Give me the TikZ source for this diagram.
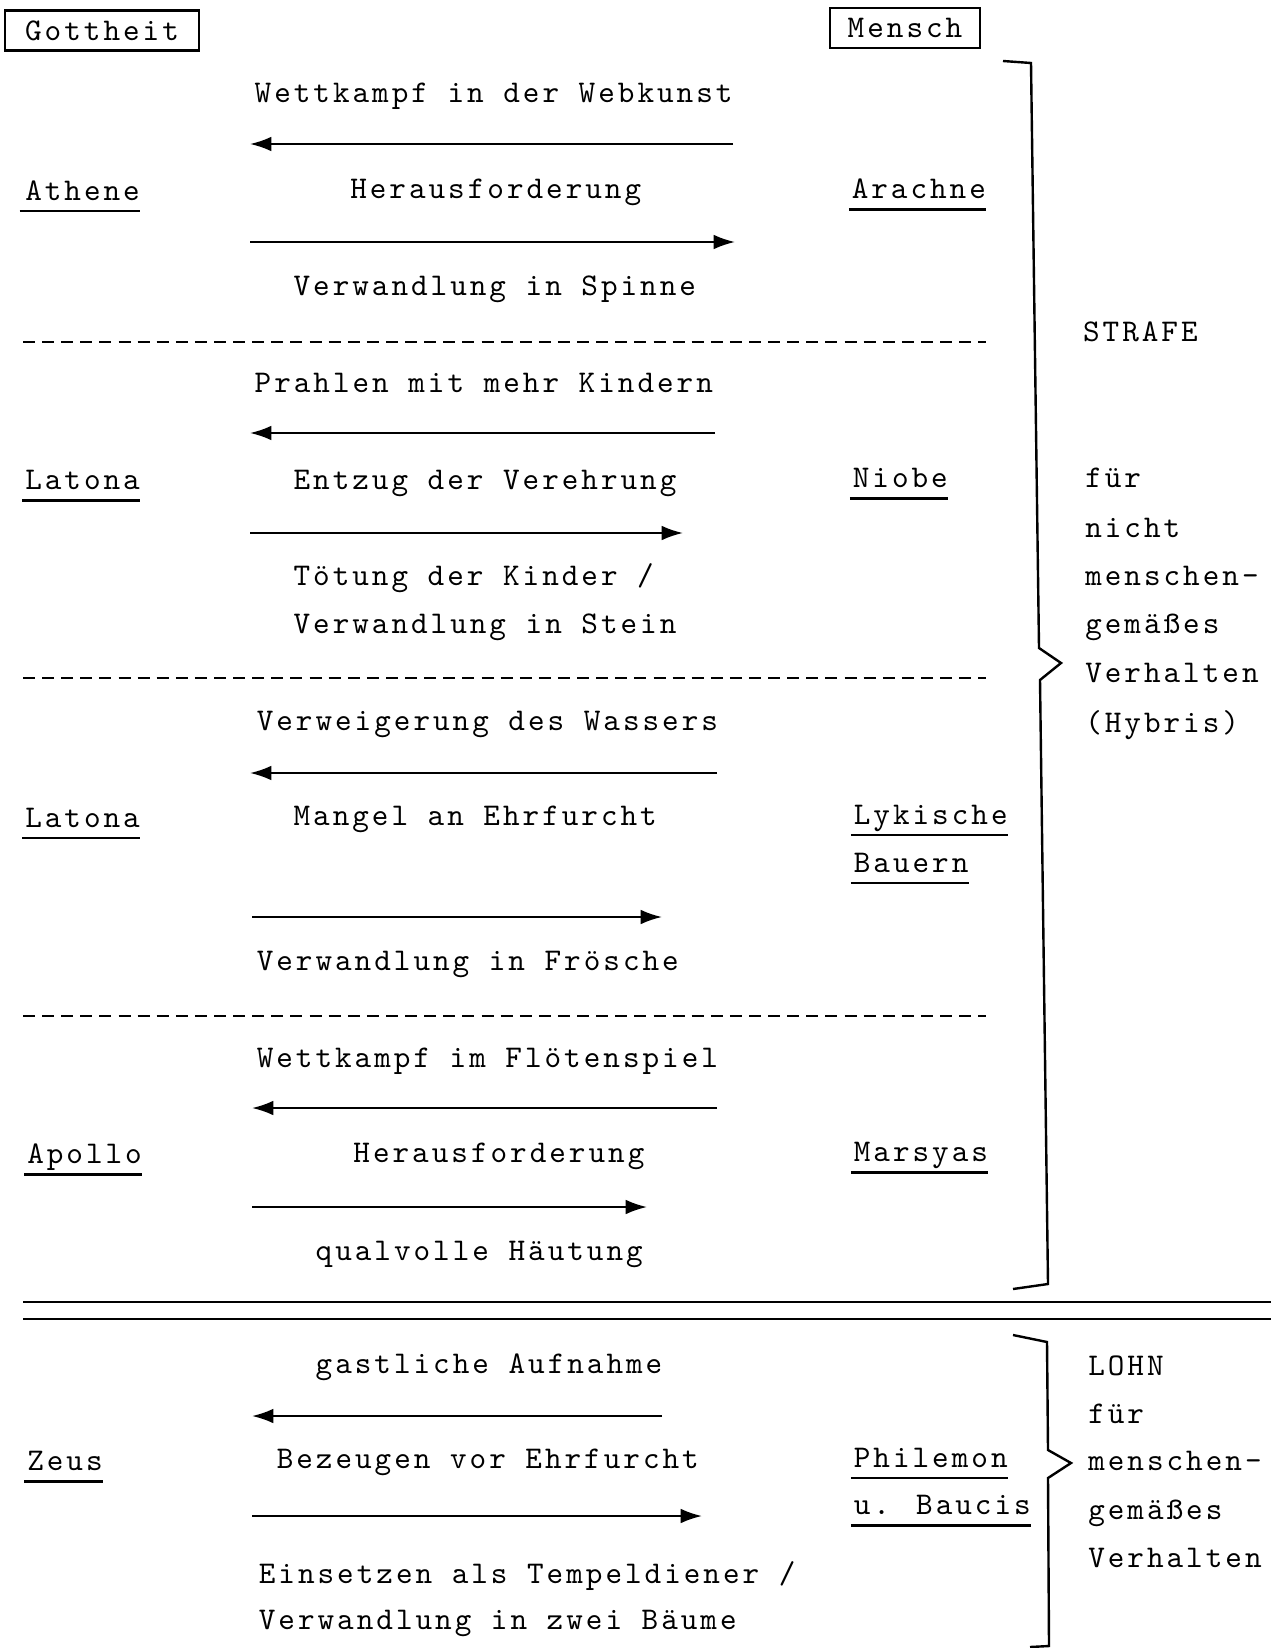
\documentclass[tikz,border=0pt]{standalone}
\usepackage{fontspec}
\newfontfamily\schreib{lmmono10-regular.otf}[LetterSpace=9.5]
\usetikzlibrary{arrows.meta}

\begin{document}
\begin{tikzpicture}[
  x=0.75pt, y=-0.75pt,
  font=\schreib\fontsize{23.7}{28}\selectfont,
  txt/.style     = {inner sep=0pt, anchor=base west},
  kasten/.style  = {draw, line width=1.6pt, inner sep=0pt, minimum height=30pt},
  flow/.style    = {-{Latex[length=16pt,width=11pt]}, line width=1.6pt},
  strich/.style  = {line width=1.7pt},
  trenn/.style   = {line width=1.7pt, dash pattern=on 9pt off 5.33pt},
  doppel/.style  = {line width=1.4pt},
  klammer/.style = {line width=1.8pt, line join=miter},
]
\useasboundingbox (0,0) rectangle (1271,1648);

%% ==== column heads ========================================================
\node[kasten, minimum width=145pt] (gott)   at (102,30.5) {Gottheit};
\node[kasten, minimum width=112pt] (mensch) at (905,28.4) {Mensch};

%% ==== arrow end points ====================================================
\coordinate (l1a) at (733,144);  \coordinate (l1b) at (250,144);
\coordinate (r1a) at (250,242);  \coordinate (r1b) at (735,242);
\coordinate (l2a) at (715,433);  \coordinate (l2b) at (250,433);
\coordinate (r2a) at (250,533);  \coordinate (r2b) at (683,533);
\coordinate (l3a) at (717,773);  \coordinate (l3b) at (250,773);
\coordinate (r3a) at (252,917);  \coordinate (r3b) at (662,917);
\coordinate (l4a) at (717,1108); \coordinate (l4b) at (252,1108);
\coordinate (r4a) at (252,1207); \coordinate (r4b) at (647,1207);
\coordinate (l5a) at (662,1416); \coordinate (l5b) at (252,1416);
\coordinate (r5a) at (252,1516); \coordinate (r5b) at (702,1516);

%% ==== Athene / Arachne ====================================================
\node[txt] (wettweb)  at (254.4,103)   {Wettkampf in der Webkunst};
\node[txt] (athene)   at (25,200)      {Athene};
\node[txt] (herausf1) at (350,199)     {Herausforderung};
\node[txt] (arachne)  at (851.5,198.7) {Arachne};
\node[txt] (spinne)   at (293.3,295.4) {Verwandlung in Spinne};
\draw[flow] (l1a) -- (l1b);
\draw[flow] (r1a) -- (r1b);

\draw[trenn] (23,342) -- (986,342);

%% ==== Latona / Niobe ======================================================
\node[txt] (prahlen)  at (254.4,392)   {Prahlen mit mehr Kindern};
\node[txt] (latona1)  at (25,489.9)    {Latona};
\node[txt] (entzug)   at (293.3,489.9) {Entzug der Verehrung};
\node[txt] (niobe)    at (852.6,487.8) {Niobe};
\node[txt] (toetung)  at (293.3,585.6) {Tötung der Kinder /};
\node[txt] (stein)    at (293.3,633.9) {Verwandlung in Stein};
\draw[flow] (l2a) -- (l2b);
\draw[flow] (r2a) -- (r2b);

\draw[trenn] (23,678) -- (986,678);

%% ==== Latona / lykische Bauern ============================================
\node[txt] (wasser)   at (256.5,730.7) {Verweigerung des Wassers};
\node[txt] (latona2)  at (25,827.4)    {Latona};
\node[txt] (mangel)   at (293.3,825.3) {Mangel an Ehrfurcht};
\node[txt] (lykische) at (853.6,824.2) {Lykische};
\node[txt] (bauern)   at (853.6,872.6) {Bauern};
\node[txt] (froesche) at (256.5,970.3) {Verwandlung in Frösche};
\draw[flow] (l3a) -- (l3b);
\draw[flow] (r3a) -- (r3b);

\draw[trenn] (23,1016) -- (986,1016);

%% ==== Apollo / Marsyas ====================================================
\node[txt] (floete)   at (256.5,1067)   {Wettkampf im Flötenspiel};
\node[txt] (apollo)   at (27,1163.8)    {Apollo};
\node[txt] (herausf2) at (353.2,1162.7) {Herausforderung};
\node[txt] (marsyas)  at (853.6,1161.7) {Marsyas};
\node[txt] (haeutung) at (315.4,1260.5) {qualvolle Häutung};
\draw[flow] (l4a) -- (l4b);
\draw[flow] (r4a) -- (r4b);

%% ==== double rule =========================================================
\draw[doppel] (23,1302) -- (1271,1302);
\draw[doppel] (23,1319) -- (1271,1319);

%% ==== Zeus / Philemon u. Baucis ===========================================
\node[txt] (aufnahme) at (315.4,1373)   {gastliche Aufnahme};
\node[txt] (zeus)     at (27,1470.8)    {Zeus};
\node[txt] (bezeugen) at (276.5,1468.7) {Bezeugen vor Ehrfurcht};
\node[txt] (philemon) at (853.6,1467.6) {Philemon};
\node[txt] (baucis)   at (853.6,1514.9) {u. Baucis};
\node[txt] (tempel)   at (258.6,1583.3) {Einsetzen als Tempeldiener /};
\node[txt] (baeume)   at (258.6,1629.5) {Verwandlung in zwei Bäume};
\draw[flow] (l5a) -- (l5b);
\draw[flow] (r5a) -- (r5b);

%% ==== underlined names ====================================================
\draw[strich] ([xshift=-4pt,yshift=-8pt]athene.base west)   -- ([yshift=-8pt]athene.base east);
\draw[strich] ([xshift=-2pt,yshift=-8pt]arachne.base west)  -- ([yshift=-8pt]arachne.base east);
\draw[strich] ([xshift=-2pt,yshift=-8pt]latona1.base west)  -- ([yshift=-8pt]latona1.base east);
\draw[strich] ([xshift=-2pt,yshift=-8pt]niobe.base west)    -- ([yshift=-8pt]niobe.base east);
\draw[strich] ([xshift=-2pt,yshift=-8pt]latona2.base west)  -- ([yshift=-8pt]latona2.base east);
\draw[strich] ([xshift=-2pt,yshift=-8pt]lykische.base west) -- ([yshift=-8pt]lykische.base east);
\draw[strich] ([xshift=-2pt,yshift=-8pt]bauern.base west)   -- ([yshift=-8pt]bauern.base east);
\draw[strich] ([xshift=-2pt,yshift=-8pt]apollo.base west)   -- ([yshift=-8pt]apollo.base east);
\draw[strich] ([xshift=-2pt,yshift=-8pt]marsyas.base west)  -- ([yshift=-8pt]marsyas.base east);
\draw[strich] ([xshift=-2pt,yshift=-8pt]zeus.base west)     -- ([yshift=-8pt]zeus.base east);
\draw[strich] ([xshift=-2pt,yshift=-8pt]philemon.base west) -- ([yshift=-8pt]philemon.base east);
\draw[strich] ([xshift=-2pt,yshift=-8pt]baucis.base west)   -- ([yshift=-8pt]baucis.base east);

%% ==== brace for STRAFE ====================================================
\draw[klammer] (1003,61) -- (1031,63) -- (1039,648) -- (1061,663)
  -- (1040,680) -- (1048,1284) -- (1013,1289);
\node[txt] (strafe)    at (1082.8,341.7) {STRAFE};
\node[txt] (fuer1)     at (1085,487.8)   {für};
\node[txt] (nicht)     at (1085,537.2)   {nicht};
\node[txt] (menschen1) at (1085,585.6)   {menschen-};
\node[txt] (gemaess1)  at (1085,633.9)   {gemäßes};
\node[txt] (verh1)     at (1085,682.3)   {Verhalten};
\node[txt] (hybris)    at (1085,732.7)   {(Hybris)};

%% ==== brace for LOHN ======================================================
\draw[klammer] (1013,1335) -- (1047,1342) -- (1048,1450) -- (1071,1463)
  -- (1048,1478) -- (1049,1646) -- (1030,1647);
\node[txt] (lohn)      at (1088,1375.1) {LOHN};
\node[txt] (fuer2)     at (1088,1423.4) {für};
\node[txt] (menschen2) at (1088,1470.8) {menschen-};
\node[txt] (gemaess2)  at (1088,1519.1) {gemäßes};
\node[txt] (verh2)     at (1088,1567.5) {Verhalten};

\end{tikzpicture}
\end{document}
